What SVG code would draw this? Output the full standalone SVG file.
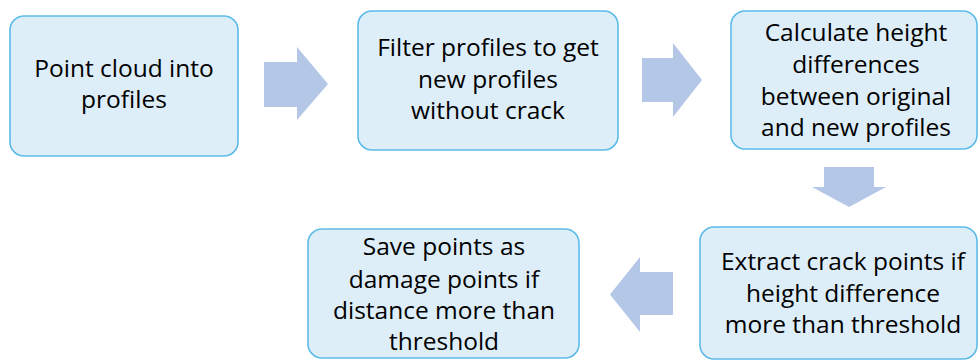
<svg xmlns="http://www.w3.org/2000/svg" width="978" height="361" viewBox="0 0 978 361">
<style>
.box{fill:#ddeef9;stroke:#5dbbe8;stroke-width:1.6}
.arr{fill:#b4c7e7;stroke:none}
text{font-family:"Open Sans","Noto Sans","DejaVu Sans",sans-serif;font-size:24.5px;fill:#000;text-anchor:middle}
</style>
<rect width="978" height="361" fill="#ffffff"/>
<g id="connectors">
<polygon class="arr" points="264,62 297,62 297,47 328,84 297,120 297,107 264,107"/>
<polygon class="arr" points="642,58 673,58 673,43 702,80 673,117 673,102 642,102"/>
<polygon class="arr" points="824,167 874,167 874,187 886,187 849,207 812,187 824,187"/>
<polygon class="arr" points="673,272 640,272 640,257 610,294.5 640,332 640,315 673,315"/>
</g>
<g id="n1">
<rect class="box" x="10" y="16" width="228" height="140" rx="14"/>
<text x="124" y="77">Point cloud into</text>
<text x="124" y="108">profiles</text>
</g>
<g id="n2">
<rect class="box" x="358" y="11" width="260" height="139" rx="14"/>
<text x="488" y="56">Filter profiles to get</text>
<text x="488" y="88">new profiles</text>
<text x="488" y="119">without crack</text>
</g>
<g id="n3">
<rect class="box" x="731" y="11" width="246" height="138" rx="14"/>
<text x="856" y="41">Calculate height</text>
<text x="856" y="73">differences</text>
<text x="856" y="105">between original</text>
<text x="856" y="136">and new profiles</text>
</g>
<g id="n4">
<rect class="box" x="700" y="227" width="277" height="132" rx="14"/>
<text x="843" y="270">Extract crack points if</text>
<text x="843" y="302">height difference</text>
<text x="843" y="333">more than threshold</text>
</g>
<g id="n5">
<rect class="box" x="308" y="229" width="271" height="129" rx="14"/>
<text x="444" y="255">Save points as</text>
<text x="444" y="288">damage points if</text>
<text x="444" y="319">distance more than</text>
<text x="444" y="350">threshold</text>
</g>
</svg>
